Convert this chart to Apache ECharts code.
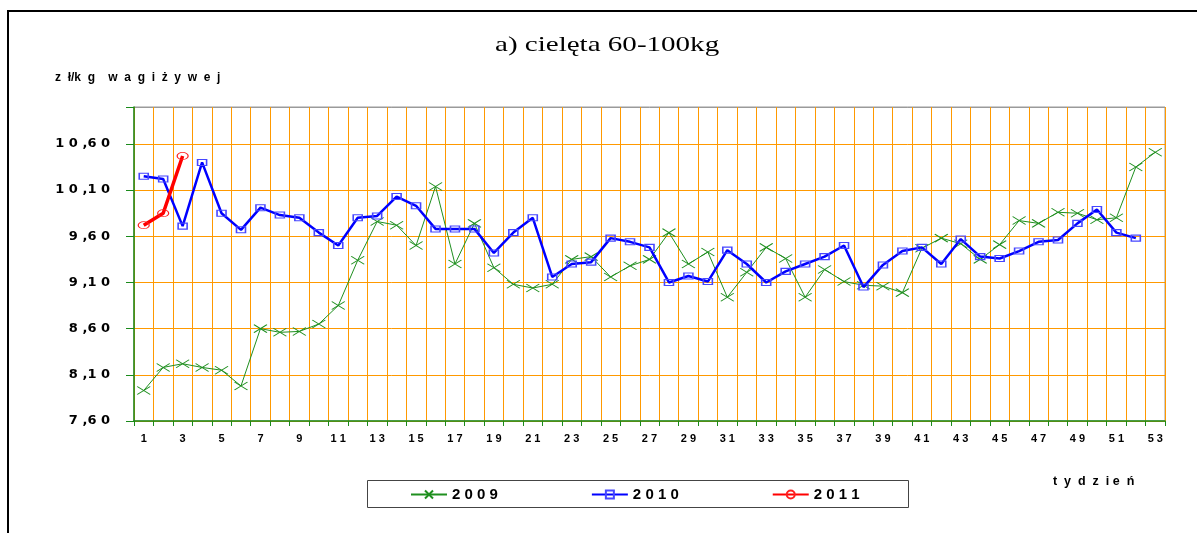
<!DOCTYPE html>
<html>
<head>
<meta charset="utf-8">
<script src="https://cdn.jsdelivr.net/npm/echarts@6/dist/echarts.min.js"></script>
<style>
  html, body { margin: 0; padding: 0; background: #fff; }
  #chart { width: 1197px; height: 533px; }
</style>
</head>
<body>
<div id="chart"></div>
<script>
// Weekly calf prices (60-100 kg), zł per kg live weight
const weeks = Array.from({ length: 53 }, (_, i) => String(i + 1));

const prices2009 = [
  7.93, 8.18, 8.22, 8.18, 8.15, 7.98, 8.60, 8.56, 8.57, 8.65,
  8.85, 9.34, 9.76, 9.72, 9.50, 10.14, 9.30, 9.74, 9.26, 9.08,
  9.04, 9.08, 9.35, 9.38, 9.16, 9.28, 9.35, 9.64, 9.30, 9.43,
  8.94, 9.21, 9.48, 9.36, 8.94, 9.24, 9.11, 9.07, 9.06, 8.99,
  9.47, 9.58, 9.52, 9.35, 9.51, 9.77, 9.74, 9.86, 9.85, 9.78,
  9.80, 10.35, 10.51
];

const prices2010 = [
  10.25, 10.22, 9.71, 10.40, 9.85, 9.67, 9.91, 9.83, 9.80, 9.64,
  9.50, 9.80, 9.82, 10.03, 9.93, 9.68, 9.68, 9.68, 9.42, 9.64,
  9.80, 9.16, 9.30, 9.32, 9.58, 9.54, 9.48, 9.10, 9.17, 9.11,
  9.45, 9.30, 9.10, 9.22, 9.30, 9.38, 9.50, 9.05, 9.29, 9.44,
  9.48, 9.30, 9.57, 9.38, 9.36, 9.44, 9.54, 9.56, 9.74, 9.89,
  9.64, 9.58, null
];

const prices2011 = [9.72, 9.85, 10.47];

const yMin = 7.6;
const yMax = 11.0;
const yStep = 0.5;

// spaced-out lettering used throughout the chart texts
const spaced = s => s.split('').join(' ').replace(' , ', ' ,');

const orange = '#ff9900';
const axisGreen = '#1a8a1a';

const chart = echarts.init(document.getElementById('chart'), null, { renderer: 'canvas' });

chart.setOption({
  animation: false,
  backgroundColor: '#ffffff',
  textStyle: { fontFamily: 'Liberation Sans, Arial, sans-serif' },
  graphic: [
    {
      type: 'rect',
      x: 8, y: 11,
      shape: { x: 0, y: 0, width: 1400, height: 700 },
      style: { fill: 'none', stroke: '#000', lineWidth: 2 },
      silent: true, z: -10
    },
    {
      type: 'rect',
      x: 367.5, y: 480.5,
      shape: { x: 0, y: 0, width: 541, height: 27 },
      style: { fill: '#fff', stroke: '#444', lineWidth: 1 },
      silent: true, z: -5
    },
    {
      type: 'text',
      x: 495, y: 34,
      scaleX: 1.32, scaleY: 1,
      style: {
        text: 'a) cielęta 60-100kg',
        fontFamily: 'Liberation Serif, Times New Roman, serif',
        fontSize: 22,
        fill: '#000',
        verticalAlign: 'top'
      },
      silent: true
    }
  ],
  title: [
    {
      text: 'z  ł/k  g    w  a  g  i  ż  y  w  e  j',
      left: 55, top: 72, padding: 0,
      textStyle: { fontSize: 12, fontWeight: 'bold', color: '#000' }
    },
    {
      text: 't  y  d  z  i e  ń',
      left: 1053, top: 475, padding: 0,
      textStyle: { fontSize: 12.5, fontWeight: 'bold', color: '#000' }
    }
  ],
  legend: {
    left: 410, top: 487, padding: 0,
    itemWidth: 36, itemHeight: 10, itemGap: 93,
    data: ['2009', '2010', '2011'],
    formatter: name => spaced(name),
    textStyle: { fontSize: 15, fontWeight: 'bold', color: '#000' }
  },
  grid: {
    left: 134, right: 32, top: 107, bottom: 112,
    show: true, borderColor: '#9a9a9a', borderWidth: 1, backgroundColor: 'transparent'
  },
  xAxis: {
    type: 'category',
    data: weeks,
    boundaryGap: true,
    axisLine: { lineStyle: { color: axisGreen, width: 1.5 } },
    axisTick: { show: true, interval: 0, length: 5, lineStyle: { color: axisGreen } },
    axisLabel: {
      interval: 1, margin: 12,
      formatter: v => spaced(v),
      fontSize: 11, fontWeight: 'bold', color: '#000'
    },
    splitLine: { show: true, interval: 0, lineStyle: { color: orange, width: 1 } }
  },
  yAxis: {
    type: 'value',
    min: yMin, max: yMax, interval: yStep,
    axisLine: { show: true, lineStyle: { color: axisGreen, width: 1.5 } },
    axisTick: { show: true, length: 8, lineStyle: { color: axisGreen } },
    axisLabel: {
      margin: 24,
      formatter: v => (v > 10.8 ? '' : spaced(v.toFixed(2).replace('.', ','))),
      fontFamily: 'DejaVu Sans, sans-serif',
      fontSize: 13, fontWeight: 'bold', color: '#000'
    },
    splitLine: {
      show: true,
      lineStyle: { color: [orange, orange, orange, orange, orange, orange, orange, '#9a9a9a'], width: 1 }
    }
  },
  series: [
    {
      name: '2009',
      type: 'line',
      data: prices2009,
      symbol: 'path://M0,0L13,8M13,0L0,8',
      symbolSize: [13, 8],
      showAllSymbol: true,
      lineStyle: { color: '#1f8f1f', width: 1 },
      itemStyle: { color: 'rgba(0,0,0,0)', borderColor: '#1f8f1f', borderWidth: 1 },
      z: 2
    },
    {
      name: '2010',
      type: 'line',
      data: prices2010,
      symbol: 'rect',
      symbolSize: [9, 6],
      showAllSymbol: true,
      lineStyle: { color: '#0000ff', width: 2.5 },
      itemStyle: { color: 'rgba(0,0,0,0)', borderColor: '#4646ff', borderWidth: 1.3 },
      z: 3
    },
    {
      name: '2011',
      type: 'line',
      data: prices2011,
      symbol: 'circle',
      symbolSize: [11, 7],
      showAllSymbol: true,
      lineStyle: { color: '#ff0000', width: 3.5 },
      itemStyle: { color: 'rgba(0,0,0,0)', borderColor: '#ff2020', borderWidth: 1 },
      z: 4
    }
  ]
});
</script>
</body>
</html>
